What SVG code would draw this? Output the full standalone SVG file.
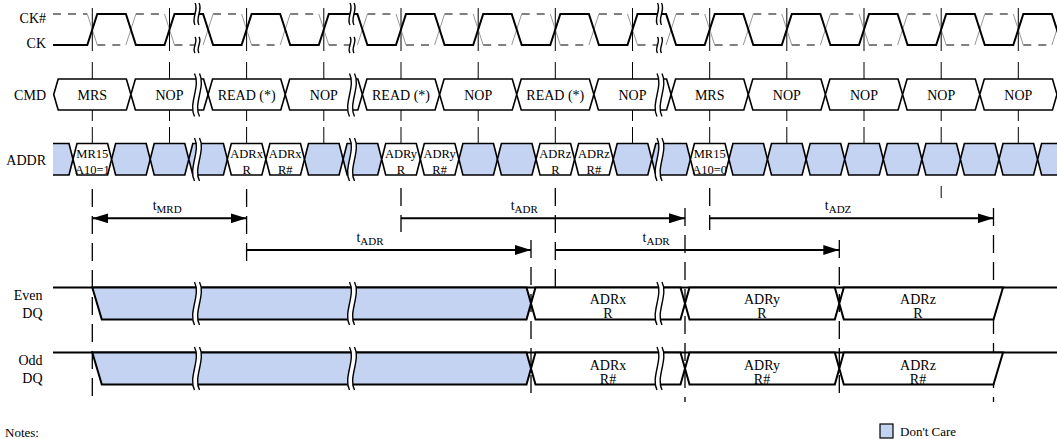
<svg xmlns="http://www.w3.org/2000/svg" xmlns:xlink="http://www.w3.org/1999/xlink" width="1057" height="439" viewBox="0 0 1057 439">
<style>
text{font-family:"Liberation Serif","Times New Roman",serif;fill:#000}
.lbl{font-size:14px;text-anchor:end}
.bl{font-size:14px;text-anchor:middle}
.sm{font-size:12.5px;text-anchor:middle}
.tl{font-size:14px}
.ck{fill:none;stroke:#000;stroke-width:2;stroke-linejoin:miter}
.ckn{fill:none;stroke:#000;stroke-width:1;stroke-dasharray:8,7}
.gry{fill:none;stroke:#8a8a8a;stroke-width:0.9}
.tick{stroke:#000;stroke-width:1;fill:none}
.ref{stroke:#000;stroke-width:1.3;fill:none;stroke-dasharray:18,9}
.bus{stroke:#000;stroke-width:1.6;stroke-linejoin:miter}
.dq{stroke:#000;stroke-width:2;stroke-linejoin:miter}
.w{fill:#fff}
.b{fill:#c5d3f2}
.arr{stroke:#000;stroke-width:2;fill:none}
.brkf{fill:#fff;stroke:none}
.brks{fill:none;stroke:#000;stroke-width:1.4}
</style>
<defs>
<polygon id="hexC" points="0,15.5 4.5,0 72.67,0 77.17,15.5 72.67,31 4.5,31"/>
<polygon id="hexA" points="0,15.75 4,0 34.6,0 38.6,15.75 34.6,31.5 4,31.5"/>
<g id="brkL">
<path class="brkf" d="M-2.5,-21.5C4,-9 -9,9 -2.5,21.5L2.5,21.5C-4,9 9,-9 2.5,-21.5Z"/>
<path class="brks" d="M-2.5,-21.5C4,-9 -9,9 -2.5,21.5M2.5,-21.5C9,-9 -4,9 2.5,21.5"/>
</g>
<g id="brkM">
<path class="brkf" d="M-2,-11C2,-4 -6,4 -2,11L2,11C-2,4 6,-4 2,-11Z"/>
<path class="brks" d="M-2,-11C2,-4 -6,4 -2,11M2,-11C6,-4 -2,4 2,11"/>
</g>
<g id="brkS">
<path class="brkf" d="M-2,-8C1.5,-3 -5.5,3 -2,8L2,8C-1.5,3 5.5,-3 2,-8Z"/>
<path class="brks" d="M-2,-8C1.5,-3 -5.5,3 -2,8M2,-8C5.5,-3 -1.5,3 2,8"/>
</g>
<marker id="ah" viewBox="0 0 16 10" refX="16" refY="5" markerWidth="16" markerHeight="10" markerUnits="userSpaceOnUse" orient="auto-start-reverse"><path d="M0,0L16,5L0,10Z" fill="#000"/></marker>
</defs>
<rect width="1057" height="439" fill="#fff"/>

<g id="labels">
<text class="lbl" x="46" y="23">CK#</text>
<text class="lbl" x="46" y="48">CK</text>
<text class="lbl" x="46" y="99.5">CMD</text>
<text class="lbl" x="46" y="164.5">ADDR</text>
<text class="lbl" x="42.5" y="300">Even</text>
<text class="lbl" x="42.5" y="318">DQ</text>
<text class="lbl" x="42.5" y="365">Odd</text>
<text class="lbl" x="42.5" y="383">DQ</text>
</g>

<g id="ticks">
<path class="tick" d="M92.3,8V51M169.5,8V51M246.6,8V51M323.8,8V51M401,8V51M478.2,8V51M555.3,8V51M632.5,8V51M709.7,8V51M786.8,8V51M864,8V51M941.2,8V51M1018.3,8V51"/>
<path class="tick" d="M92.3,62V121M169.5,62V121M246.6,62V121M323.8,62V121M401,62V121M478.2,62V121M555.3,62V121M632.5,62V121M709.7,62V121M786.8,62V121M864,62V121M941.2,62V121M1018.3,62V121"/>
<path class="tick" d="M92.3,127V143.5M169.5,127V143.5M246.6,127V143.5M323.8,127V143.5M401,127V143.5M478.2,127V143.5M555.3,127V143.5M632.5,127V143.5M709.7,127V143.5M786.8,127V143.5M864,127V143.5M941.2,127V143.5M1018.3,127V143.5"/>
<path class="tick" d="M941.2,186V198"/>
<path class="ref" d="M92.3,189V402M246.6,189V262M401,188V232M531,240V402M555.3,188V294M685,208V402M709.7,188V230M839.3,240V402M993.5,208V402"/>
</g>

<g id="ck-n">
<path class="ckn" d="M53,14H87.3M135.9,14H164.5M213.1,14H241.6M290.2,14H318.8M367.4,14H396M444.6,14H473.2M521.7,14H550.3M598.9,14H627.5M676.1,14H704.7M753.3,14H781.8M830.4,14H859M907.6,14H936.2M984.8,14H1013.3"/>
<path class="ckn" d="M97.3,45H125.9M174.5,45H203.1M251.6,45H280.2M328.8,45H357.4M406,45H434.6M483.2,45H511.7M560.3,45H588.9M637.5,45H666.1M714.7,45H743.3M791.8,45H820.4M869,45H897.6M946.2,45H974.8M1023.3,45H1051.9"/>
<path class="gry" d="M87.3,14L97.3,45M164.5,14L174.5,45M241.6,14L251.6,45M318.8,14L328.8,45M396,14L406,45M473.2,14L483.2,45M550.3,14L560.3,45M627.5,14L637.5,45M704.7,14L714.7,45M781.8,14L791.8,45M859,14L869,45M936.2,14L946.2,45M1013.3,14L1023.3,45M125.9,45L135.9,14M203.1,45L213.1,14M280.2,45L290.2,14M357.4,45L367.4,14M434.6,45L444.6,14M511.7,45L521.7,14M588.9,45L598.9,14M666.1,45L676.1,14M743.3,45L753.3,14M820.4,45L830.4,14M897.6,45L907.6,14M974.8,45L984.8,14M1051.9,45L1061.9,14"/>
</g>
<g id="ck">
<path class="ck" d="M53,45L87.3,45L97.3,14L125.9,14L135.9,45L164.5,45L174.5,14L203.1,14L213.1,45L241.6,45L251.6,14L280.2,14L290.2,45L318.8,45L328.8,14L357.4,14L367.4,45L396,45L406,14L434.6,14L444.6,45L473.2,45L483.2,14L511.7,14L521.7,45L550.3,45L560.3,14L588.9,14L598.9,45L627.5,45L637.5,14L666.1,14L676.1,45L704.7,45L714.7,14L743.3,14L753.3,45L781.8,45L791.8,14L820.4,14L830.4,45L859,45L869,14L897.6,14L907.6,45L936.2,45L946.2,14L974.8,14L984.8,45L1013.3,45L1023.3,14L1051.9,14L1061.9,45"/>
<use href="#brkM" x="197" y="14"/><use href="#brkS" x="197" y="45"/>
<use href="#brkM" x="352" y="14"/><use href="#brkS" x="352" y="45"/>
<use href="#brkM" x="659.5" y="14"/><use href="#brkS" x="659.5" y="45"/>
</g>

<g id="cmd">
<use href="#hexC" class="bus w" x="53.7" y="79"/>
<use href="#hexC" class="bus w" x="130.9" y="79"/>
<use href="#hexC" class="bus w" x="208.1" y="79"/>
<use href="#hexC" class="bus w" x="285.2" y="79"/>
<use href="#hexC" class="bus w" x="362.4" y="79"/>
<use href="#hexC" class="bus w" x="439.6" y="79"/>
<use href="#hexC" class="bus w" x="516.7" y="79"/>
<use href="#hexC" class="bus w" x="593.9" y="79"/>
<use href="#hexC" class="bus w" x="671.1" y="79"/>
<use href="#hexC" class="bus w" x="748.3" y="79"/>
<use href="#hexC" class="bus w" x="825.4" y="79"/>
<use href="#hexC" class="bus w" x="902.6" y="79"/>
<use href="#hexC" class="bus w" x="979.8" y="79"/>
<text class="bl" x="92.3" y="99.5">MRS</text>
<text class="bl" x="169.5" y="99.5">NOP</text>
<text class="bl" x="246.6" y="99.5">READ (*)</text>
<text class="bl" x="323.8" y="99.5">NOP</text>
<text class="bl" x="401" y="99.5">READ (*)</text>
<text class="bl" x="478.2" y="99.5">NOP</text>
<text class="bl" x="555.3" y="99.5">READ (*)</text>
<text class="bl" x="632.5" y="99.5">NOP</text>
<text class="bl" x="709.7" y="99.5">MRS</text>
<text class="bl" x="786.8" y="99.5">NOP</text>
<text class="bl" x="864" y="99.5">NOP</text>
<text class="bl" x="941.2" y="99.5">NOP</text>
<text class="bl" x="1018.3" y="99.5">NOP</text>
<use href="#brkL" x="197" y="95"/>
<use href="#brkL" x="352" y="95"/>
<use href="#brkL" x="659.5" y="95"/>
</g>

<g id="addr">
<polygon class="b" points="53,143.5 69,143.5 73,159.25 69,175 53,175"/>
<path class="bus" fill="none" d="M53,143.5H69L73,159.25L69,175H53"/>
<use href="#hexA" class="bus w" x="73" y="143.5"/>
<use href="#hexA" class="bus b" x="111.6" y="143.5"/>
<use href="#hexA" class="bus b" x="150.2" y="143.5"/>
<use href="#hexA" class="bus b" x="188.8" y="143.5"/>
<use href="#hexA" class="bus w" x="227.3" y="143.5"/>
<use href="#hexA" class="bus w" x="265.9" y="143.5"/>
<use href="#hexA" class="bus b" x="304.5" y="143.5"/>
<use href="#hexA" class="bus b" x="343.1" y="143.5"/>
<use href="#hexA" class="bus w" x="381.7" y="143.5"/>
<use href="#hexA" class="bus w" x="420.3" y="143.5"/>
<use href="#hexA" class="bus b" x="458.9" y="143.5"/>
<use href="#hexA" class="bus b" x="497.4" y="143.5"/>
<use href="#hexA" class="bus w" x="536" y="143.5"/>
<use href="#hexA" class="bus w" x="574.6" y="143.5"/>
<use href="#hexA" class="bus b" x="613.2" y="143.5"/>
<use href="#hexA" class="bus b" x="651.8" y="143.5"/>
<use href="#hexA" class="bus w" x="690.4" y="143.5"/>
<use href="#hexA" class="bus b" x="728.9" y="143.5"/>
<use href="#hexA" class="bus b" x="767.5" y="143.5"/>
<use href="#hexA" class="bus b" x="806.1" y="143.5"/>
<use href="#hexA" class="bus b" x="844.7" y="143.5"/>
<use href="#hexA" class="bus b" x="883.3" y="143.5"/>
<use href="#hexA" class="bus b" x="921.9" y="143.5"/>
<use href="#hexA" class="bus b" x="960.4" y="143.5"/>
<use href="#hexA" class="bus b" x="999" y="143.5"/>
<use href="#hexA" class="bus b" x="1037.6" y="143.5"/>
<text class="sm" x="92.3" y="157.5">MR15</text><text class="sm" x="92.3" y="174">A10=1</text>
<text class="sm" x="246.6" y="157.5">ADRx</text><text class="sm" x="246.6" y="174">R</text>
<text class="sm" x="285.2" y="157.5">ADRx</text><text class="sm" x="285.2" y="174">R#</text>
<text class="sm" x="401" y="157.5">ADRy</text><text class="sm" x="401" y="174">R</text>
<text class="sm" x="439.6" y="157.5">ADRy</text><text class="sm" x="439.6" y="174">R#</text>
<text class="sm" x="555.3" y="157.5">ADRz</text><text class="sm" x="555.3" y="174">R</text>
<text class="sm" x="593.9" y="157.5">ADRz</text><text class="sm" x="593.9" y="174">R#</text>
<text class="sm" x="709.7" y="157.5">MR15</text><text class="sm" x="709.7" y="174">A10=0</text>
<use href="#brkL" x="197" y="159.5"/>
<use href="#brkL" x="352" y="159.5"/>
<use href="#brkL" x="659.5" y="159.5"/>
</g>

<g id="connectors">
<path class="arr" d="M92.3,218.3H246.6" marker-start="url(#ah)" marker-end="url(#ah)"/>
<path class="arr" d="M401,218.3H685" marker-end="url(#ah)"/>
<path class="arr" d="M709.7,218.3H993.5" marker-end="url(#ah)"/>
<path class="arr" d="M246.6,250H531" marker-end="url(#ah)"/>
<path class="arr" d="M555.3,250H839.3" marker-end="url(#ah)"/>
<text class="tl" x="152.7" y="210">t<tspan font-size="11" dy="3.3">MRD</tspan></text>
<text class="tl" x="510.7" y="210">t<tspan font-size="11" dy="3.3">ADR</tspan></text>
<text class="tl" x="824.8" y="210">t<tspan font-size="11" dy="3.3">ADZ</tspan></text>
<text class="tl" x="356.4" y="241.7">t<tspan font-size="11" dy="3.3">ADR</tspan></text>
<text class="tl" x="642.6" y="241.7">t<tspan font-size="11" dy="3.3">ADR</tspan></text>
</g>

<g id="even-dq">
<path class="dq" d="M53,287.5H1057"/>
<polygon class="dq b" points="92.3,287.5 101.8,319.5 526.5,319.5 531,303.5 526.5,287.5"/>
<polygon class="dq w" points="531,303.5 535.5,287.5 680.5,287.5 685,303.5 680.5,319.5 535.5,319.5"/>
<polygon class="dq w" points="685,303.5 689.5,287.5 834.8,287.5 839.3,303.5 834.8,319.5 689.5,319.5"/>
<polygon class="dq w" points="839.3,303.5 843.8,287.5 1003,287.5 993.5,319.5 843.8,319.5"/>
<text class="bl" x="608" y="304">ADRx</text><text class="bl" x="608" y="318">R</text>
<text class="bl" x="762" y="304">ADRy</text><text class="bl" x="762" y="318">R</text>
<text class="bl" x="918" y="304">ADRz</text><text class="bl" x="918" y="318">R</text>
<use href="#brkL" x="197" y="303.5"/>
<use href="#brkL" x="352" y="303.5"/>
<use href="#brkL" x="659.5" y="303.5"/>
</g>

<g id="odd-dq">
<path class="dq" d="M53,352.5H1057"/>
<polygon class="dq b" points="92.3,352.5 101.8,384.5 526.5,384.5 531,368.5 526.5,352.5"/>
<polygon class="dq w" points="531,368.5 535.5,352.5 680.5,352.5 685,368.5 680.5,384.5 535.5,384.5"/>
<polygon class="dq w" points="685,368.5 689.5,352.5 834.8,352.5 839.3,368.5 834.8,384.5 689.5,384.5"/>
<polygon class="dq w" points="839.3,368.5 843.8,352.5 1003,352.5 993.5,384.5 843.8,384.5"/>
<text class="bl" x="608" y="369.5">ADRx</text><text class="bl" x="608" y="383.5">R#</text>
<text class="bl" x="762" y="369.5">ADRy</text><text class="bl" x="762" y="383.5">R#</text>
<text class="bl" x="918" y="369.5">ADRz</text><text class="bl" x="918" y="383.5">R#</text>
<use href="#brkL" x="197" y="368.5"/>
<use href="#brkL" x="352" y="368.5"/>
<use href="#brkL" x="659.5" y="368.5"/>
</g>

<g id="legend">
<rect x="880" y="424" width="13" height="14" class="b" stroke="#000" stroke-width="1.2"/>
<text x="900" y="435.5" font-size="13">Don't Care</text>
<text x="5" y="436.5" font-size="13">Notes:</text>
</g>
</svg>
